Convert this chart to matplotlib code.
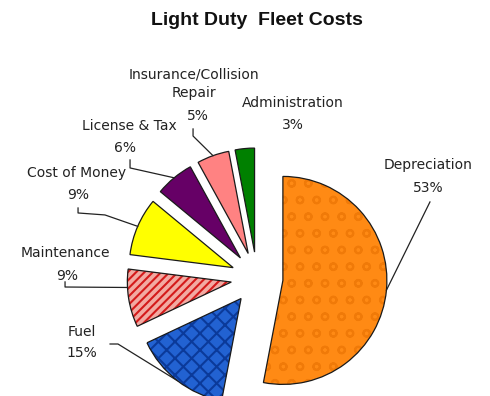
import numpy as np
import matplotlib.pyplot as plt
from matplotlib.patches import Wedge

categories = ['Depreciation', 'Fuel', 'Maintenance', 'Cost of Money',
              'License & Tax', 'Insurance/Collision\nRepair', 'Administration']
shares = [53, 15, 9, 9, 6, 5, 3]

# fills, pattern and pattern colour per slice
face_colors = ['#FF8A14', '#2262D2', '#F2AAA2', '#FFFF00', '#660066', '#FF8282', '#008000']
hatches = ['o', 'xx', '////', None, None, None, None]
hatch_colors = ['#F07A08', '#0B3A9A', '#D41A1A', None, None, None, None]

# label text positions (data units) and leader line bends
name_xy = [(1.644, 1.087), (-1.683, -0.519), (-1.846, 0.240), (-1.731, 1.010),
           (-1.231, 1.462), (-0.606, 1.870), (0.346, 1.683)]
pct_xy = [(1.644, 0.865), (-1.683, -0.721), (-1.827, 0.019), (-1.721, 0.798),
          (-1.269, 1.250), (-0.567, 1.558), (0.346, 1.471)]
leader_pts = [[(1.663, 0.731)],
              [(-1.413, -0.635), (-1.337, -0.635)],
              [(-1.846, -0.038), (-1.846, -0.087)],
              [(-1.721, 0.673), (-1.721, 0.625), (-1.462, 0.606)],
              [(-1.221, 1.135), (-1.221, 1.058)],
              [(-0.615, 1.433), (-0.615, 1.365)],
              None]
attach_deg = [None, None, 183, None, None, None, None]

plt.rcParams['font.family'] = ['DejaVu Sans']
plt.rcParams['hatch.linewidth'] = 1.5

fig = plt.figure(figsize=(4.9, 3.96), dpi=100)
ax = fig.add_axes([0, 0, 1, 1])

wedges, _ = ax.pie(shares, explode=[0.25] * len(shares), startangle=90,
                   counterclock=False, colors=face_colors, radius=1.0,
                   wedgeprops=dict(edgecolor='#1a1a1a', linewidth=0.9))

for w, h, hc in zip(wedges, hatches, hatch_colors):
    if h is None:
        continue
    # pattern drawn in its own colour, outline added on top
    w.set_hatch(h)
    w.set_edgecolor(hc)
    w.set_linewidth(0)
    ax.add_patch(Wedge(w.center, w.r, w.theta1, w.theta2, fill=False,
                       edgecolor='#1a1a1a', linewidth=0.9))

txt = dict(fontsize=10, color='#222222', ha='center', va='center')
for i, w in enumerate(wedges):
    ax.text(*name_xy[i], categories[i], linespacing=1.45, **txt)
    ax.text(*pct_xy[i], f'{shares[i]}%', **txt)
    if leader_pts[i] is None:
        continue
    ang = attach_deg[i] if attach_deg[i] is not None else (w.theta1 + w.theta2) / 2
    cx, cy = w.center
    end = (cx + w.r * np.cos(np.radians(ang)), cy + w.r * np.sin(np.radians(ang)))
    pts = leader_pts[i] + [end]
    ax.plot([p[0] for p in pts], [p[1] for p in pts], color='#222222', lw=0.9)

ax.set_xlim(-2.471, 2.240)
ax.set_ylim(-1.135, 2.673)
ax.axis('off')

fig.text(0.524, 0.949, 'Light Duty  Fleet Costs', fontsize=14, fontweight='bold',
         family='Liberation Sans', ha='center', va='center', color='#111111')

fig.savefig('out.png', dpi=100, facecolor='white')
